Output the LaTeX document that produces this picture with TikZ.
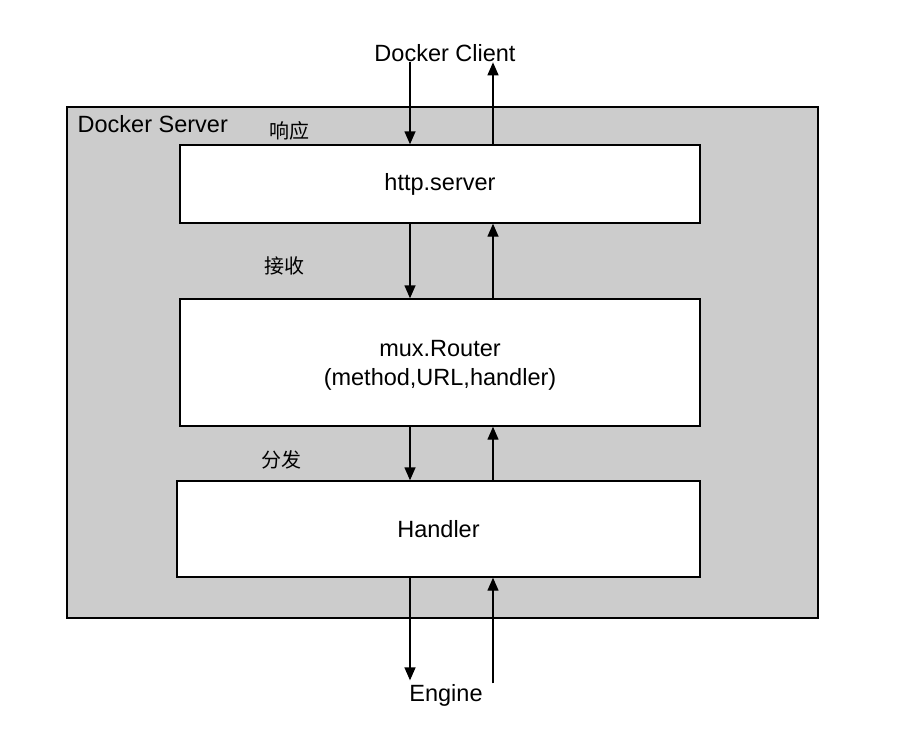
\documentclass[tikz,border=0pt]{standalone}
\usepackage{fontspec}
\setmainfont{Liberation Sans}
\newfontfamily\cjk{Noto Sans CJK SC}
\usetikzlibrary{arrows.meta, positioning}
\definecolor{srvgray}{HTML}{CCCCCC}

\begin{document}
\begin{tikzpicture}[x=1pt, y=-1pt, line width=1.4pt,
    >={Triangle[length=13pt, width=11pt]},
    box/.style={draw, fill=white, minimum width=520pt, inner sep=0pt},
    txt/.style={font=\fontsize{23.5}{29}\selectfont, inner sep=0pt},
    cn/.style={font=\cjk\fontsize{20}{24}\selectfont, inner sep=0pt}]
    \useasboundingbox (0,0) rectangle (904,752);
    % server frame
    \node[draw, fill=srvgray, minimum width=751pt, minimum height=511pt] (srv) at (442.5,362.5) {};
    \node[txt, anchor=west] (srvname) at (77,124) {Docker Server};
    % layers
    \node[box, minimum height=78pt] (http) at (440,184) {};
    \node[txt] (httptxt) at (http.center) {http.server};
    \node[box, minimum height=127pt] (mux) at (440,362.5) {};
    \node[txt, align=center] (muxtxt) at (440,365) {mux.Router\\(method,URL,handler)};
    \node[box, minimum width=523pt, minimum height=96pt] (hdl) at (438.5,529) {};
    \node[txt] (hdltxt) at (hdl.center) {Handler};
    % outside
    \node[txt] (client) at (445,53) {Docker Client};
    \node[txt] (engine) at (446,695) {Engine};
    \coordinate (dn) at (410,0);
    \coordinate (up) at (493,0);
    % labels
    \node[cn] (resp) at (289,131) {响应};
    \node[cn] (recv) at (284,266) {接收};
    \node[cn] (disp) at (281,460) {分发};
    % request path
    \draw[->] (client.south -| dn) -- (http.north -| dn);
    \draw[->] (http.south -| dn) -- (mux.north -| dn);
    \draw[->] (mux.south -| dn) -- (hdl.north -| dn);
    \draw[->, shorten >=3pt] (hdl.south -| dn) -- (engine.north -| dn);
    % response path
    \draw[->] (engine.north -| up) -- (hdl.south -| up);
    \draw[->] (hdl.north -| up) -- (mux.south -| up);
    \draw[->] (mux.north -| up) -- (http.south -| up);
    \draw[->] (http.north -| up) -- (client.south -| up);
\end{tikzpicture}
\end{document}
